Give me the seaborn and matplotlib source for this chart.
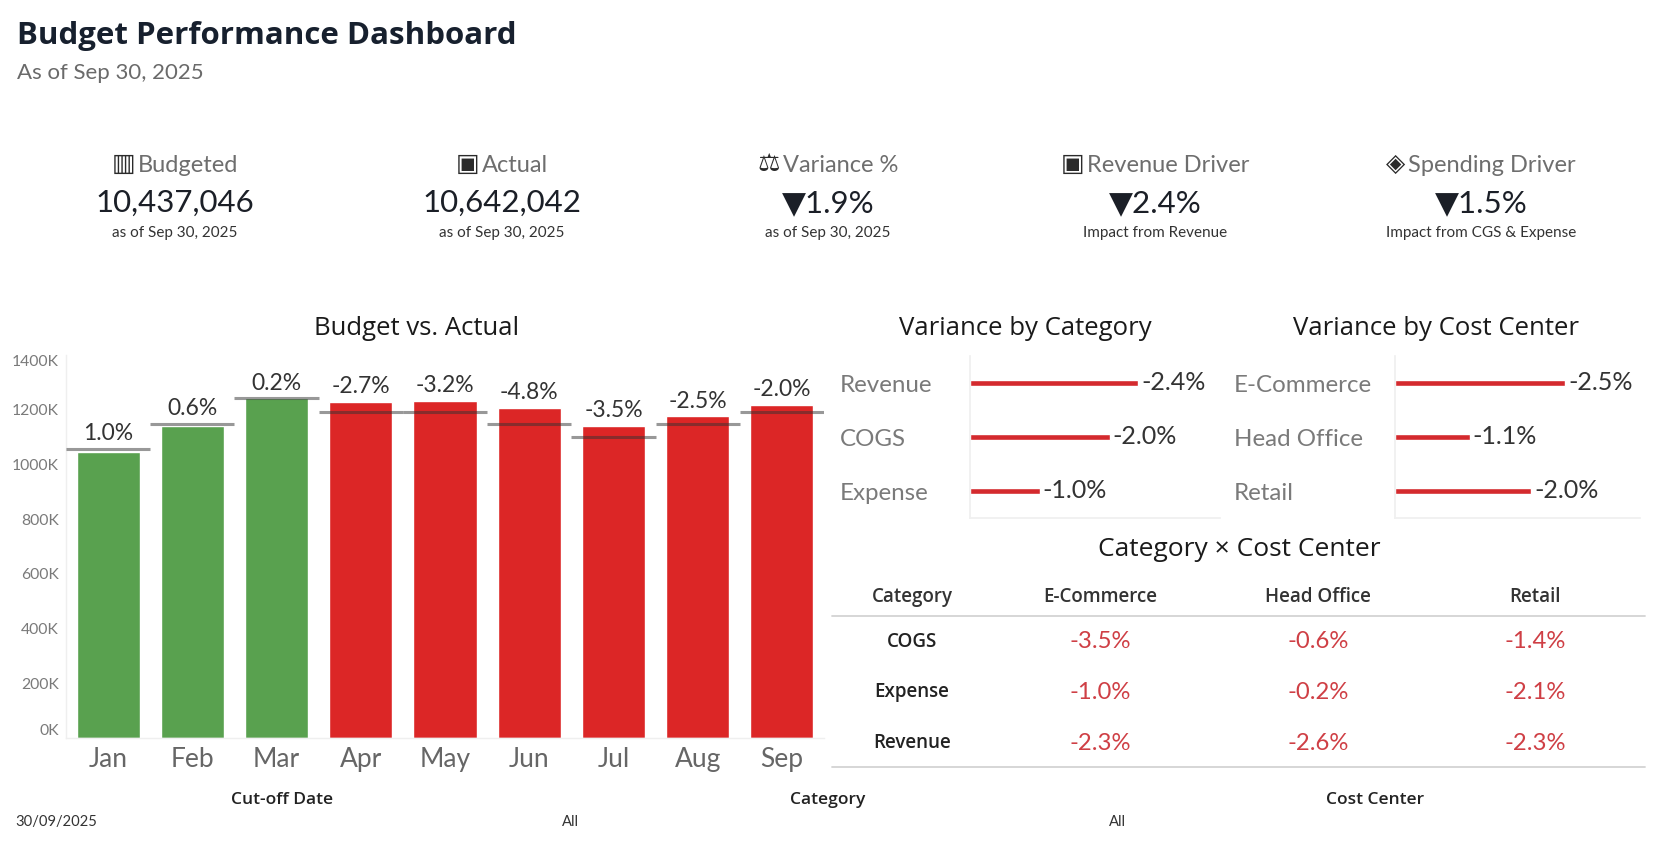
import numpy as np
import pandas as pd
import matplotlib
matplotlib.use("Agg")
import matplotlib.pyplot as plt
from matplotlib.lines import Line2D
import seaborn as sns

# ---------------- data ----------------
months = ["Jan", "Feb", "Mar", "Apr", "May", "Jun", "Jul", "Aug", "Sep"]
actual_k = [1046, 1141, 1241, 1229, 1233, 1207, 1141, 1177, 1218]
budget_k = [1058, 1148, 1241, 1192, 1192, 1148, 1102, 1148, 1192]
variance_pct = [1.0, 0.6, 0.2, -2.7, -3.2, -4.8, -3.5, -2.5, -2.0]
y_ticks_k = [0, 200, 400, 600, 800, 1000, 1200, 1400]

categories = ["Revenue", "COGS", "Expense"]
category_var = [-2.4, -2.0, -1.0]
cost_centers = ["E-Commerce", "Head Office", "Retail"]
cost_center_var = [-2.5, -1.1, -2.0]

table_rows = ["COGS", "Expense", "Revenue"]
table_cols = ["E-Commerce", "Head Office", "Retail"]
table_cogs = [-3.5, -0.6, -1.4]
table_expense = [-1.0, -0.2, -2.1]
table_revenue = [-2.3, -2.6, -2.3]

kpi_labels = ["Budgeted", "Actual", "Variance %", "Revenue Driver", "Spending Driver"]
kpi_budgeted = 10437046
kpi_actual = 10642042
kpi_variance = 1.9
kpi_revenue_driver = 2.4
kpi_spending_driver = 1.5
kpi_notes = ["as of Sep 30, 2025", "as of Sep 30, 2025", "as of Sep 30, 2025",
             "Impact from Revenue", "Impact from CGS & Expense"]

# ---------------- style ----------------
sns.set_theme(style="white")
FONT = ["Open Sans", "DejaVu Sans"]
LIGHT = ["Lato", "DejaVu Sans"]
plt.rcParams["font.family"] = FONT

W, H = 1657, 851
fig = plt.figure(figsize=(W / 100, H / 100), dpi=100)
fig.patch.set_facecolor("white")


def fx(x):
    return x / W


def fy(y):
    return 1 - y / H


def px2pt(p):
    return p * 0.72


GREEN = "#59a14f"
RED = "#dc2626"
HRED = "#d42a2e"
TRED = "#cf3f45"

# ---------------- header ----------------
fig.text(fx(17), fy(36), "Budget Performance Dashboard", fontsize=22.5,
         fontweight="bold", color="#17202e", ha="left", va="center")
fig.text(fx(17), fy(73), "As of Sep 30, 2025", fontsize=16,
         color="#6a6a6a", ha="left", va="center", family=LIGHT)

# ---------------- KPI row ----------------
kpi_centers = [175, 502, 828, 1155, 1481]
kpi_icons = ["\u25a5", "\u25a3", "\u2696", "\u25a3", "\u25c8"]
kpi_values = [f"{kpi_budgeted:,}", f"{kpi_actual:,}",
              f"\u25bc{kpi_variance:.1f}%", f"\u25bc{kpi_revenue_driver:.1f}%",
              f"\u25bc{kpi_spending_driver:.1f}%"]

renderer = fig.canvas.get_renderer()
for cx, lab, icon, val, note in zip(kpi_centers, kpi_labels, kpi_icons,
                                     kpi_values, kpi_notes):
    t = fig.text(0, fy(165), lab, fontsize=17, color="#6e6e6e",
                 ha="left", va="center", family=LIGHT)
    ic = fig.text(0, fy(164), icon, fontsize=18, color="#2b2b2b",
                  ha="left", va="center", family=["DejaVu Sans"])
    lw = t.get_window_extent(renderer).width
    iw = ic.get_window_extent(renderer).width
    gap = 3
    start = cx - (lw + iw + gap) / 2
    ic.set_x(fx(start))
    t.set_x(fx(start + iw + gap))
    fig.text(fx(cx), fy(203), val, fontsize=22.5, color="#1b1f27",
             ha="center", va="center", family=LIGHT)
    fig.text(fx(cx), fy(233), note, fontsize=11, color="#333333",
             ha="center", va="center", family=LIGHT)

# ---------------- Budget vs Actual ----------------
ax = fig.add_axes([fx(66), fy(738), fx(824) - fx(66), fy(355) - fy(738)])
df = pd.DataFrame({"month": months, "actual": actual_k, "budget": budget_k,
                   "var": variance_pct})
bar_colors = [GREEN if v >= 0 else RED for v in variance_pct]
sns.barplot(data=df, x="month", y="actual", hue="month", palette=bar_colors,
            width=0.75, saturation=1, legend=False, ax=ax)
xs = np.arange(len(months))
ax.hlines(df["budget"], xs - 0.5, xs + 0.5, colors=[(0.2, 0.2, 0.2, 0.5)],
          linewidth=2.2, zorder=5)
for i, (a, b, v) in enumerate(zip(actual_k, budget_k, variance_pct)):
    ax.annotate(f"{v:.1f}%", xy=(i, max(a, b)), xytext=(0, px2pt(15)),
                textcoords="offset points", ha="center", va="center",
                fontsize=16.5, color="#333333", family=LIGHT)
ax.set_xlim(-0.5, len(months) - 0.5)
ax.set_ylim(0, 1400)
ax.set_yticks(y_ticks_k)
ax.set_yticklabels([f"{t}K" for t in y_ticks_k], fontsize=11.3, color="#7a7a7a",
                   family=LIGHT)
ylabs = ax.get_yticklabels()
ylabs[0].set_va("bottom")
ylabs[-1].set_va("top")
ax.tick_params(axis="y", length=0, pad=px2pt(7))
ax.set_xticks(xs)
ax.set_xticklabels(months, fontsize=19, color="#666666", family=LIGHT)
ax.tick_params(axis="x", length=0, pad=px2pt(9))
ax.set_xlabel("")
ax.set_ylabel("")
for s in ["top", "right"]:
    ax.spines[s].set_visible(False)
for s in ["left", "bottom"]:
    ax.spines[s].set_color("#efefef")
    ax.spines[s].set_linewidth(1)
ax.grid(False)
fig.text(fx(417), fy(329), "Budget vs. Actual", fontsize=18.5, color="#1a1a1a",
         ha="center", va="center")

# ---------------- Variance by Category / Cost Center ----------------
def hbar_panel(left, right, xmax, labels, values, label_x, title, title_x):
    a = fig.add_axes([fx(left), fy(518), fx(right) - fx(left), fy(356) - fy(518)])
    d = pd.DataFrame({"name": labels, "value": values})
    sns.barplot(data=d, x="value", y="name", orient="h", color=HRED,
                saturation=1, width=0.1, ax=a)
    a.set_xlim(0, -xmax)
    a.set_ylim(len(labels) - 0.5, -0.5)
    a.set_xticks([])
    a.set_xlabel("")
    a.set_ylabel("")
    a.set_yticks(range(len(labels)))
    a.set_yticklabels(labels, fontsize=17.4, color="#7a7a7a", family=LIGHT)
    a.tick_params(axis="y", length=0, pad=px2pt(left - label_x))
    for lab in a.get_yticklabels():
        lab.set_ha("left")
    for i, v in enumerate(values):
        a.annotate(f"{v:.1f}%", xy=(v, i), xytext=(px2pt(3), 0),
                   textcoords="offset points", ha="left", va="center",
                   fontsize=18.1, color="#333333", family=LIGHT)
    for s in ["top", "right"]:
        a.spines[s].set_visible(False)
    for s in ["left", "bottom"]:
        a.spines[s].set_color("#f0f0f0")
    a.grid(False)
    fig.text(fx(title_x), fy(329), title, fontsize=18.5, color="#1a1a1a",
             ha="center", va="center")
    return a


hbar_panel(969.5, 1220, 3.57, categories, category_var, 839.5,
           "Variance by Category", 1025)
hbar_panel(1394.5, 1640, 3.6, cost_centers, cost_center_var, 1233.5,
           "Variance by Cost Center", 1436)

# ---------------- Category x Cost Center table ----------------
fig.text(fx(1239), fy(550), "Category \u00d7 Cost Center", fontsize=19,
         color="#1a1a1a", ha="center", va="center")
col_x = [912, 1100, 1318, 1535]
fig.text(fx(col_x[0]), fy(597), "Category", fontsize=13.5, fontweight="semibold",
         color="#333333", ha="center", va="center")
for cx, c in zip(col_x[1:], table_cols):
    fig.text(fx(cx), fy(597), c, fontsize=13.5, fontweight="semibold",
             color="#333333", ha="center", va="center")
fig.add_artist(Line2D([fx(832), fx(1645)], [fy(615.5), fy(615.5)],
                      color="#d3d3d3", linewidth=1.3))
row_y = [642, 692.5, 743]
for ry, rname, rvals in zip(row_y, table_rows,
                            [table_cogs, table_expense, table_revenue]):
    fig.text(fx(col_x[0]), fy(ry), rname, fontsize=13.5, fontweight="semibold",
             color="#222222", ha="center", va="center")
    for cx, v in zip(col_x[1:], rvals):
        fig.text(fx(cx), fy(ry), f"{v:.1f}%", fontsize=17.2, color=TRED,
                 ha="center", va="center", family=LIGHT)
fig.add_artist(Line2D([fx(832), fx(1645)], [fy(767), fy(767)],
                      color="#d3d3d3", linewidth=1.3))

# ---------------- filters ----------------
for x, lab in [(282, "Cut-off Date"), (828, "Category"), (1375, "Cost Center")]:
    fig.text(fx(x), fy(800), lab, fontsize=12.5, fontweight="semibold",
             color="#222222", ha="center", va="center")
fig.text(fx(15), fy(822), "30/09/2025", fontsize=10.6, color="#333333",
         ha="left", va="center", family=LIGHT)
fig.text(fx(570), fy(822), "All", fontsize=10.6, color="#333333",
         ha="center", va="center", family=LIGHT)
fig.text(fx(1117), fy(822), "All", fontsize=10.6, color="#333333",
         ha="center", va="center", family=LIGHT)

fig.savefig("out.png", dpi=100, facecolor="white")
